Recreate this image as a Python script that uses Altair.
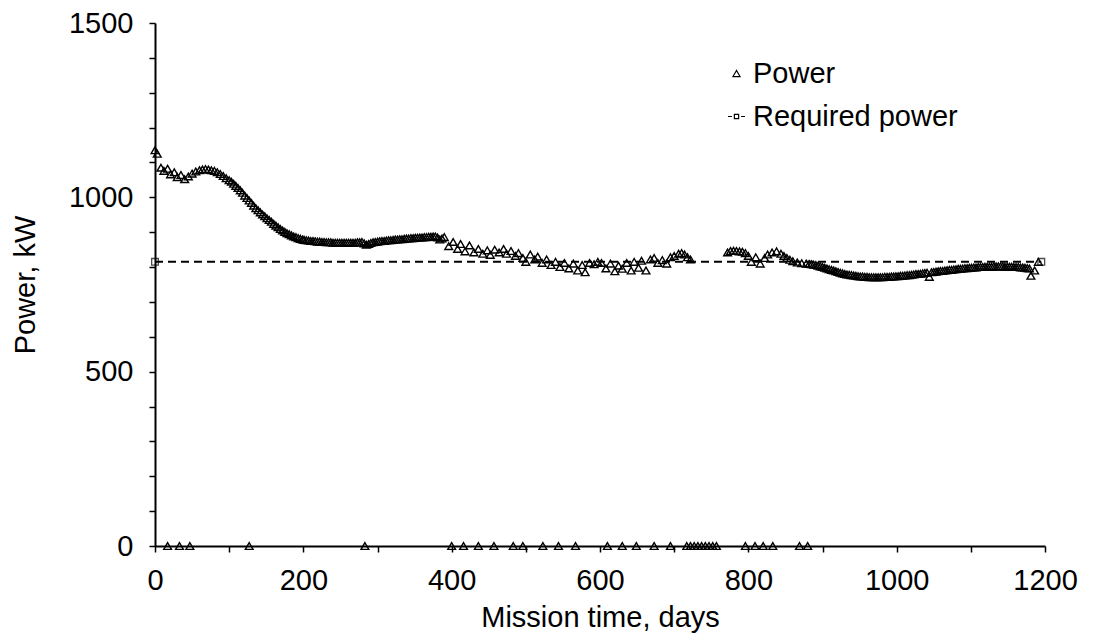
import altair as alt
import pandas as pd

# ---- Power (triangles), by segment ----
seg1_days = [0, 3, 8, 12, 17, 21, 26, 30, 35, 40, 45, 50, 55, 60, 64, 68, 72, 76, 80, 84, 88, 92, 96]
seg1_kw = [1135, 1125, 1085, 1076, 1082, 1066, 1072, 1058, 1064, 1052, 1060, 1068, 1074, 1078, 1080, 1081,
           1080, 1078, 1076, 1072, 1067, 1061, 1055]

seg2_days = [100, 103, 106, 109, 112, 115, 118, 121, 124, 127, 130, 133, 136, 139, 142, 145, 148, 151,
             154, 157, 160, 163, 166, 169, 172, 175, 178, 181, 184, 187, 190, 193, 196, 199]
seg2_kw = [1049, 1045, 1039, 1033, 1027, 1020, 1013, 1005, 998, 991,
           984, 976, 969, 963, 957, 951, 946, 940, 935, 930,
           924, 919, 914, 909, 905, 901, 897, 894, 891, 888,
           886, 883, 881, 879]

seg3_days = [201, 204, 207, 210, 213, 216, 219, 222, 225, 228, 231, 234, 237, 240, 243, 246, 249, 252,
             255, 258, 261, 264, 267, 270, 273, 276, 279, 282, 285, 288, 291, 294, 297, 300, 303, 306,
             309, 312, 315, 318, 321, 324, 327, 330, 333, 336, 339, 342, 345, 348, 351, 354, 357, 360,
             363, 366, 369, 372, 375, 378, 381, 384, 387, 390]
seg3_kw = [878, 877, 876, 875, 875, 874, 873, 873, 872, 872,
           871, 871, 871, 870, 870, 870, 870, 870, 870, 870,
           870, 870, 870, 870, 871, 871, 872, 868, 864, 866,
           869, 871, 872, 873, 874, 875, 875, 876, 877, 877,
           878, 879, 879, 880, 880, 881, 882, 882, 883, 883,
           884, 884, 885, 885, 886, 886, 887, 887, 888, 888,
           885, 879, 882, 886]

seg4_days = [396, 402, 408, 412, 418, 424, 430, 436, 442, 448, 452, 458, 464, 470, 474, 480, 486, 490, 496,
             500, 506, 512, 516, 522, 528, 534, 540, 546, 552, 558, 564, 570, 576, 580, 586, 592, 597, 602,
             608, 614, 620, 625, 630, 636, 642, 646, 652, 656, 662, 668, 673, 678, 684, 690, 695, 700, 706,
             710, 714, 718, 722]
seg4_kw = [860, 872, 852, 866, 845, 862, 842, 852, 838, 848, 835, 850, 842, 852, 838, 846, 832, 840, 826,
           815, 836, 822, 830, 812, 822, 806, 815, 800, 812, 796, 810, 790, 806, 785, 812, 808, 815, 812,
           796, 810, 788, 804, 795, 812, 790, 815, 798, 818, 790, 822, 826, 812, 820, 810, 828, 832, 838,
           840, 836, 828, 822]

seg5_days = [772, 776, 780, 784, 788, 792, 796, 800, 804, 810, 816, 822, 826, 832, 838, 844, 848, 852, 856,
             860, 866, 872, 878]
seg5_kw = [842, 846, 847, 846, 845, 844, 840, 832, 815, 828, 810, 826, 836, 842, 845, 838, 832, 826, 821,
           817, 813, 811, 810]

seg6_days = [882, 885, 888, 891, 894, 897, 900, 903, 906, 909,
             912, 915, 918, 921, 924, 927, 930, 933, 936, 939,
             942, 945, 948, 951, 954, 957, 960, 963, 966, 969,
             972, 975, 978, 981, 984, 987, 990, 993, 996, 999,
             1002, 1005, 1008, 1011, 1014, 1017, 1020, 1023, 1026, 1029,
             1032, 1035, 1038, 1041, 1044, 1047, 1050, 1053, 1056, 1059,
             1062, 1065, 1068, 1071, 1074, 1077, 1080, 1083, 1086, 1089,
             1092, 1095, 1098, 1101, 1104, 1107, 1110, 1113, 1116, 1119,
             1122, 1125, 1128, 1131, 1134, 1137, 1140, 1143, 1146, 1149,
             1152, 1155, 1158, 1161, 1164, 1167, 1170, 1173, 1176, 1179,
             1181, 1186, 1191]
seg6_kw = [809, 808, 807, 806, 804, 802, 800, 798, 796, 794,
           792, 790, 788, 786, 784, 782, 780, 779, 778, 777,
           776, 775, 774, 773, 773, 772, 772, 771, 771, 771,
           771, 771, 771, 771, 772, 772, 772, 773, 773, 774,
           774, 775, 775, 776, 777, 777, 778, 779, 780, 780,
           781, 782, 783, 784, 772, 785, 786, 787, 788, 789,
           789, 790, 791, 792, 792, 793, 794, 795, 795, 796,
           797, 797, 798, 798, 799, 799, 800, 800, 800, 801,
           801, 801, 801, 802, 802, 802, 802, 802, 801, 801,
           801, 801, 800, 800, 800, 799, 799, 798, 797, 796,
           775, 790, 815]

# power points lying on the zero line
zero_days = [17, 33, 47, 127, 283, 400, 416, 436, 457, 483, 496, 523, 544, 567, 610, 630, 649, 673, 695,
             717, 722, 727, 732, 737, 742, 747, 752, 757, 796, 809, 820, 833, 869, 880]
zero_kw = [0, 0, 0, 0, 0, 0, 0, 0, 0, 0, 0, 0, 0, 0, 0, 0, 0, 0, 0,
           0, 0, 0, 0, 0, 0, 0, 0, 0, 0, 0, 0, 0, 0, 0]

# ---- Required power (dashed line) ----
req_days = [0, 1195]
req_kw = [815, 815]

# ---- axis ticks ----
x_ticks = [0, 100, 200, 300, 400, 500, 600, 700, 800, 900, 1000, 1100, 1200]
y_ticks = [0, 100, 200, 300, 400, 500, 600, 700, 800, 900, 1000, 1100, 1200, 1300, 1400, 1500]

series_names = ["Power", "Required power"]

all_days = seg1_days + seg2_days + seg3_days + seg4_days + seg5_days + seg6_days + zero_days
all_kw = seg1_kw + seg2_kw + seg3_kw + seg4_kw + seg5_kw + seg6_kw + zero_kw
df_power = pd.DataFrame({"day": all_days, "kw": all_kw, "series": series_names[0]})
df_req = pd.DataFrame({"day": req_days, "kw": req_kw, "series": series_names[1]})

FONT = "Liberation Sans"
FS = 29
legend_path = "M-2.4,0H-1.3M-0.6,-0.6H0.6V0.6H-0.6ZM1.3,0H2.4"

x_enc = alt.X("day:Q",
              scale=alt.Scale(domain=[0, 1200], nice=False),
              axis=alt.Axis(values=x_ticks,
                            labelExpr="datum.value % 200 == 0 ? datum.label : ''",
                            format="d", labelOverlap=False, labelFlush=False,
                            title="Mission time, days",
                            titlePadding=8))
y_enc = alt.Y("kw:Q",
              scale=alt.Scale(domain=[0, 1500], nice=False),
              axis=alt.Axis(values=y_ticks,
                            labelExpr="datum.value % 500 == 0 ? datum.label : ''",
                            format="d", labelOverlap=False, labelFlush=False,
                            title="Power, kW",
                            titlePadding=28))

points = alt.Chart(df_power).mark_point(filled=False, color="black", strokeWidth=1.4, size=60, opacity=1).encode(
    x=x_enc,
    y=y_enc,
    shape=alt.Shape("series:N",
                    scale=alt.Scale(domain=series_names, range=["triangle-up", legend_path]),
                    legend=alt.Legend(title=None, orient="none", legendX=567, legendY=36,
                                      labelFontSize=FS, labelFont=FONT, labelColor="black",
                                      symbolSize=50, symbolStrokeColor="black", symbolStrokeWidth=1.2,
                                      symbolFillColor="transparent", rowPadding=13, labelOffset=2,
                                      labelLimit=400)),
)

req_line = alt.Chart(df_req).mark_line(color="black", strokeWidth=2, strokeDash=[8, 5]).encode(
    x=x_enc, y=y_enc
)
req_pts = alt.Chart(df_req).mark_point(filled=False, color="black", shape="square", size=45, strokeWidth=1.3).encode(
    x=x_enc, y=y_enc
)

chart = alt.layer(points, req_line, req_pts).properties(
    width=890, height=523,
    autosize=alt.AutoSizeParams(type="none"),
    padding={"left": 147, "top": 15, "right": 40, "bottom": 100},
).configure_view(stroke=None).configure_axis(
    grid=False,
    domainColor="black", domainWidth=2,
    tickColor="black", tickWidth=1.5, tickSize=6,
    labelFont=FONT, labelFontSize=FS, labelColor="black", labelPadding=14,
    titleFont=FONT, titleFontSize=FS, titleFontWeight="normal", titleColor="black",
).configure_axisY(labelPadding=16)

chart.save("out.html", embed_options={"renderer": "svg", "actions": False})
